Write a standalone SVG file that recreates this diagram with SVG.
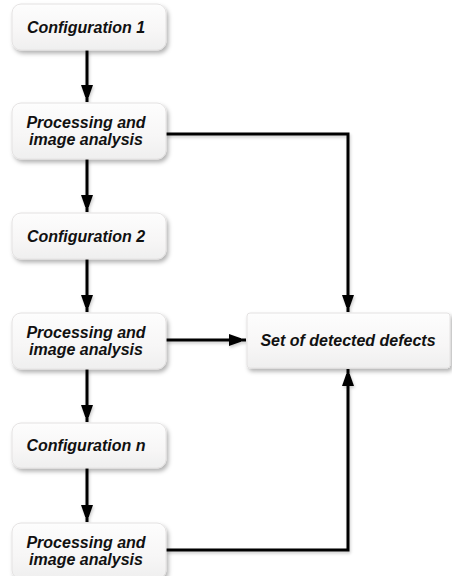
<svg xmlns="http://www.w3.org/2000/svg" width="452" height="576" viewBox="0 0 452 576">
  <defs>
    <linearGradient id="boxFill" x1="0" y1="0" x2="0" y2="1">
      <stop offset="0" stop-color="#fdfdfd"/>
      <stop offset="0.6" stop-color="#f7f6f6"/>
      <stop offset="1" stop-color="#efefef"/>
    </linearGradient>
    <filter id="shadow" x="-20%" y="-30%" width="140%" height="170%">
      <feDropShadow dx="2" dy="3" stdDeviation="2.2" flood-color="#000" flood-opacity="0.3"/>
    </filter>
    <filter id="lineShadow" x="-10%" y="-10%" width="120%" height="120%">
      <feDropShadow dx="1" dy="2" stdDeviation="1.5" flood-color="#000" flood-opacity="0.2"/>
    </filter>
    <marker id="arrow" markerUnits="userSpaceOnUse" markerWidth="12" markerHeight="18" viewBox="0 0 12 18" refX="17" refY="6" orient="auto">
      <path d="M0,0 L17,6 L0,12 Z" fill="#000"/>
    </marker>
  </defs>
  <style>
    .box { fill: url(#boxFill); stroke: #e4e2e2; stroke-width: 1; filter: url(#shadow); }
    .label { font-family: "Liberation Sans", Arial, sans-serif; font-size: 16px; font-weight: bold; font-style: italic; fill: #111; text-anchor: middle; }
    .conn { fill: none; stroke: #000; stroke-width: 3; }
  </style>

  <rect width="452" height="576" fill="#fff"/>

  <!-- connectors -->
  <g id="connectors" filter="url(#lineShadow)">
    <path class="conn" d="M87,50 V102" marker-end="url(#arrow)"/>
    <path class="conn" d="M87,159 V212" marker-end="url(#arrow)"/>
    <path class="conn" d="M87,259 V312" marker-end="url(#arrow)"/>
    <path class="conn" d="M87,369 V422" marker-end="url(#arrow)"/>
    <path class="conn" d="M87,468 V522" marker-end="url(#arrow)"/>
    <path class="conn" d="M166,134 H348 V312" marker-end="url(#arrow)"/>
    <path class="conn" d="M166,340 H246" marker-end="url(#arrow)"/>
    <path class="conn" d="M166,550 H348 V369" marker-end="url(#arrow)"/>
  </g>

  <g id="config1">
    <rect class="box" x="12" y="4" width="154" height="46" rx="9"/>
    <text class="label" x="86" y="32.5">Configuration 1</text>
  </g>

  <g id="processing1">
    <rect class="box" x="12" y="103" width="154" height="56" rx="9"/>
    <text class="label" x="86" y="128">Processing and</text>
    <text class="label" x="86" y="145">image analysis</text>
  </g>

  <g id="config2">
    <rect class="box" x="12" y="213" width="154" height="46" rx="9"/>
    <text class="label" x="86" y="241.5">Configuration 2</text>
  </g>

  <g id="processing2">
    <rect class="box" x="12" y="313" width="154" height="56" rx="9"/>
    <text class="label" x="86" y="338">Processing and</text>
    <text class="label" x="86" y="355">image analysis</text>
  </g>

  <g id="confign">
    <rect class="box" x="12" y="423" width="154" height="45" rx="9"/>
    <text class="label" x="86" y="451">Configuration n</text>
  </g>

  <g id="processingn">
    <rect class="box" x="12" y="523" width="154" height="56" rx="9"/>
    <text class="label" x="86" y="548">Processing and</text>
    <text class="label" x="86" y="565">image analysis</text>
  </g>

  <g id="defects">
    <rect class="box" x="247" y="313" width="203" height="55" rx="3"/>
    <text class="label" x="348" y="346">Set of detected defects</text>
  </g>
</svg>
